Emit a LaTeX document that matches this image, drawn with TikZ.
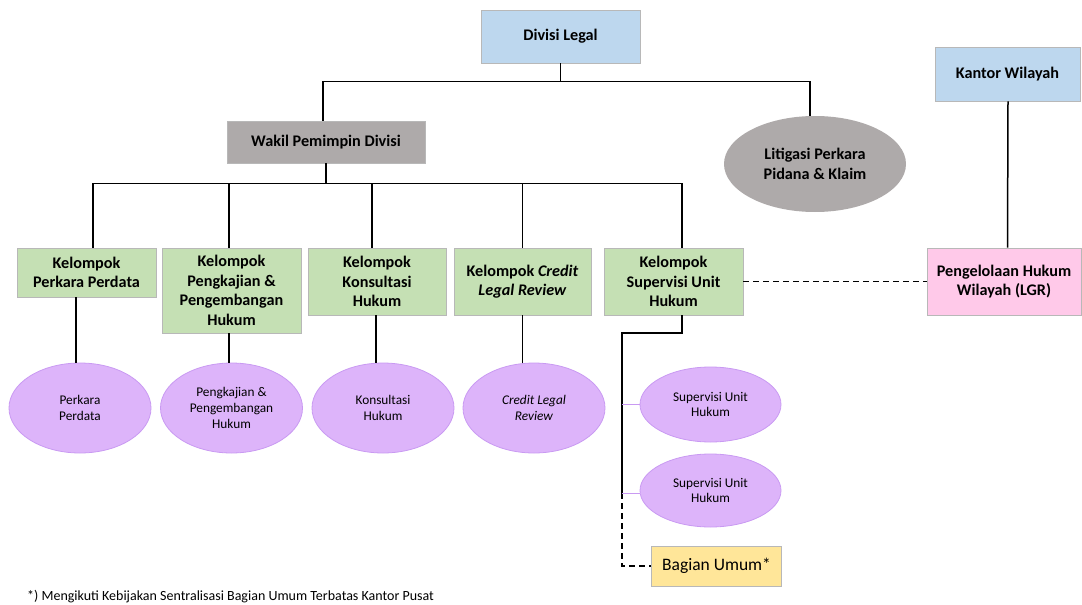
\documentclass[tikz,border=0pt]{standalone}
\usepackage{fontspec}
\setmainfont{Carlito}
\usepackage{tikz}
\usetikzlibrary{shapes.geometric, arrows.meta, calc}

\definecolor{headblue}{HTML}{BDD7EE}
\definecolor{deputygray}{HTML}{AEAAAA}
\definecolor{groupgreen}{HTML}{C5E0B4}
\definecolor{regionpink}{HTML}{FFC9E9}
\definecolor{unitpurple}{HTML}{DDB4FA}
\definecolor{unitedge}{HTML}{C99AF2}
\definecolor{generalyellow}{HTML}{FFE699}

\begin{document}
\begin{tikzpicture}[
        x=1pt, y=-1pt,
        box/.style={rectangle, draw=black!28, line width=0.8pt, inner sep=0pt, align=center, font=\bfseries\fontsize{16.2}{19.5}\selectfont},
        head/.style={box, fill=headblue},
        deputy/.style={box, fill=deputygray},
        group/.style={box, fill=groupgreen, minimum height=67pt},
        region/.style={box, fill=regionpink},
        general/.style={box, fill=generalyellow, font=\fontsize{17.5}{19.5}\selectfont},
        unit/.style={ellipse, draw=unitedge, line width=0.8pt, fill=unitpurple, inner sep=0pt, align=center, minimum width=142pt, minimum height=90pt, font=\fontsize{13.3}{15.6}\selectfont},
        litig/.style={ellipse, draw=none, fill=deputygray, inner sep=0pt, align=center, font=\bfseries\fontsize{16.2}{19.5}\selectfont},
        link/.style={line width=1.5pt, black},
        dotlink/.style={link, dash pattern=on 6pt off 4pt},
        sublink/.style={line width=1pt, unitedge}
    ]
        \useasboundingbox (0,0) rectangle (1082,605);

        \node[head, minimum width=159pt, minimum height=53pt] (divisi) at (560.5,36.5) {Divisi Legal};
        \node[deputy, minimum width=198pt, minimum height=42pt] (wakil) at (326,142) {Wakil Pemimpin Divisi};
        \node[litig, minimum width=182pt, minimum height=96pt] (litigasi) at (815,164) {Litigasi Perkara\\Pidana \& Klaim};
        \node[head, minimum width=145pt, minimum height=54pt] (kantor) at (1007.5,74) {Kantor Wilayah};

        \node[group, minimum width=139pt, minimum height=49pt] (perdata) at (86.5,272.5) {Kelompok\\Perkara Perdata};
        \node[group, minimum width=139pt, minimum height=85pt] (kajian) at (231.5,290.5) {Kelompok\\Pengkajian \&\\Pengembangan\\Hukum};
        \node[group, minimum width=138pt] (konsul) at (377,281.5) {Kelompok\\Konsultasi\\Hukum};
        \node[group, minimum width=137pt] (clr) at (522.5,281.5) {Kelompok \textit{Credit}\\\textit{Legal Review}};
        \node[group, minimum width=139pt] (supervisi) at (673.5,281.5) {Kelompok\\Supervisi Unit\\Hukum};
        \node[region, minimum width=154pt, minimum height=67pt] (lgr) at (1004,281.5) {Pengelolaan Hukum\\Wilayah (LGR)};

        \node[unit] (uperdata) at (80,408) {Perkara\\Perdata};
        \node[unit] (ukajian) at (231.5,408) {Pengkajian \&\\Pengembangan\\Hukum};
        \node[unit] (ukonsul) at (383,408) {Konsultasi\\Hukum};
        \node[unit] (uclr) at (534,408) {\textit{Credit Legal}\\\textit{Review}};
        \node[unit, minimum width=141pt, minimum height=75pt] (usup1) at (710.5,404.5) {Supervisi Unit\\Hukum};
        \node[unit, minimum width=141pt, minimum height=73pt] (usup2) at (710.5,490.5) {Supervisi Unit\\Hukum};
        \node[general, minimum width=130pt, minimum height=40pt] (bagian) at (716.5,566) {Bagian Umum*};

        \node[anchor=west, inner sep=0pt, font=\fontsize{14}{16}\selectfont] (catatan) at (27,597) {*) Mengikuti Kebijakan Sentralisasi Bagian Umum Terbatas Kantor Pusat};

        \coordinate (topbus) at ($(divisi.south)+(0,18)$);
        \coordinate (midbus) at ($(wakil.south)+(0,20)$);
        \coordinate (fork) at (622,333);

        \draw[link] (divisi.south) -- (topbus);
        \draw[link] ([xshift=-3pt]wakil.north) |- (topbus) -| ([xshift=-5pt]litigasi.north);
        \draw[link] (wakil.south) -- (midbus);
        \foreach \grp/\dx in {perdata/6.5, kajian/-2.5, konsul/-5, clr/0, supervisi/8.5}
            \draw[link] ([xshift=\dx pt]\grp.north) |- (midbus);

        \draw[link] ([xshift=-10.5pt]perdata.south) -- ([xshift=-4pt]uperdata.north);
        \draw[link] ([xshift=-2.5pt]kajian.south) -- ([xshift=-2.5pt]ukajian.north);
        \draw[link] ([xshift=-1pt]konsul.south) -- ([xshift=-7pt]ukonsul.north);
        \draw[link] (clr.south) -- ([xshift=-11.5pt]uclr.north);

        \draw[link] ([xshift=8.5pt]supervisi.south) |- (fork) -- ($(fork |- usup2.west)+(0,2.5)$);
        \draw[dotlink] ($(fork |- usup2.west)+(0,2.5)$) |- (bagian.west);
        \draw[sublink] (fork |- usup1.west) -- (usup1.west);
        \draw[sublink] ($(fork |- usup2.west)+(0,2.5)$) -- ($(usup2.west)+(0,2.5)$);

        \draw[dotlink] (supervisi.east) -- (lgr.west);
        \draw[link] ([xshift=0.5pt]kantor.south) -- ([xshift=3.5pt]lgr.north);
    \end{tikzpicture}
\end{document}
